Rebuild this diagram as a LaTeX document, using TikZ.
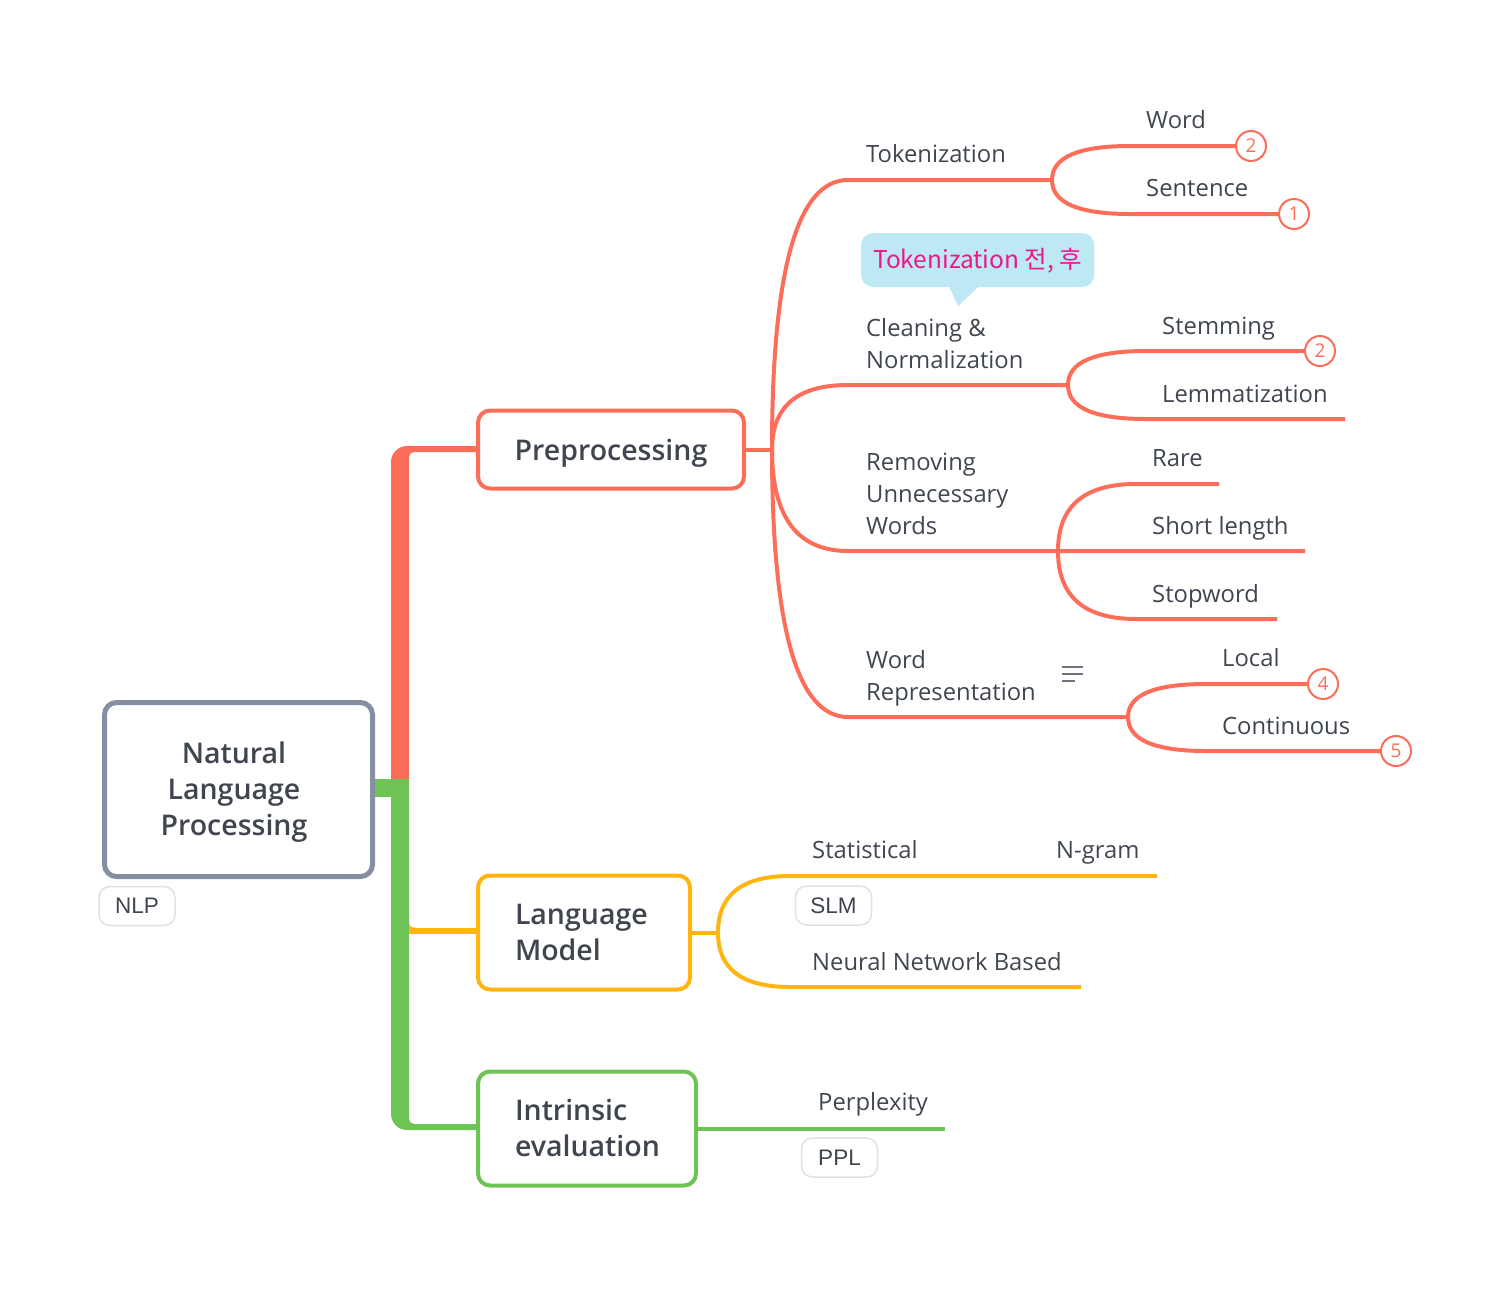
\documentclass[tikz,border=0pt]{standalone}
\usepackage{fontspec}
\setmainfont{Open Sans}
\newfontfamily\tagfont{Liberation Sans}
\newfontfamily\cjkfont{Noto Sans CJK KR}
\IfFontExistsTF{Open Sans SemiBold}{\newfontfamily\boxfont{Open Sans SemiBold}}{%
 \IfFontExistsTF{Open Sans Semibold}{\newfontfamily\boxfont{Open Sans Semibold}}{%
  \newfontfamily\boxfont[FakeBold=0.9]{Open Sans}}}
\definecolor{cred}{RGB}{252,110,90}
\definecolor{corange}{RGB}{255,180,15}
\definecolor{cgreen}{RGB}{110,195,85}
\definecolor{cgray}{RGB}{133,143,163}
\definecolor{ctext}{RGB}{64,70,80}
\definecolor{cbubble}{RGB}{190,232,243}
\definecolor{cpink}{RGB}{236,24,138}
\definecolor{ctag}{RGB}{225,225,225}
\definecolor{cicon}{RGB}{110,115,125}
\begin{document}
\begin{tikzpicture}[x=1pt,y=-1pt,
  lbl/.style={anchor=base west, inner sep=0pt, text=ctext, font=\fontsize{23.8}{32}\selectfont},
  topic/.style={draw, line width=4pt, rounded corners=12pt, fill=white, text=ctext, inner sep=0pt, font=\boxfont\fontsize{28.5}{36}\selectfont},
  tag/.style={draw=ctag, line width=1.5pt, fill=white, rounded corners=11pt, text=ctext, minimum width=76pt, minimum height=39pt, inner sep=0pt, font=\tagfont\fontsize{22.5}{26}\selectfont},
  num/.style={circle, draw=cred, line width=2pt, fill=white, minimum size=30pt, inner sep=0pt, text=cred, font=\fontsize{19}{19}\selectfont},
  rl/.style={draw=cred, line width=4pt, line join=round},
  ol/.style={draw=corange, line width=4pt, line join=round},
  gl/.style={draw=cgreen, line width=4pt, line join=round}]
\useasboundingbox (0,0) rectangle (1512,1288);

% ---- trunk ----
\fill[cred] (391,781) [rounded corners=16pt]-- (391,446) [sharp corners]-- (476,446) -- (476,452) [rounded corners=5pt]-- (409,452) [sharp corners]-- (409,781) -- cycle;
\fill[cgreen] (374,779) -- (409,779) -- (409,797) -- (374,797) -- cycle;
\fill[cgreen] (391,779) [rounded corners=16pt]-- (391,1130) [sharp corners]-- (476,1130) -- (476,1124) [rounded corners=5pt]-- (409,1124) [sharp corners]-- (409,779) -- cycle;
\fill[corange] (409,928) -- (476,928) -- (476,934) -- (409,934) -- cycle;
\fill[corange] (409,919) .. controls (409,927) .. (418,928) -- (409,928) -- cycle;

% ---- main boxes ----
\node[topic, draw=cgray, line width=5pt, minimum width=268pt, minimum height=174pt, text height=22pt, text depth=75pt, font=\boxfont\fontsize{28.5}{36}\selectfont] (root) at (238.5,789.5)
  {\hspace*{-9pt}\begin{tabular}[t]{@{}c@{}}Natural\\Language\\Processing\end{tabular}};
\node[tag] (nlp) at (137,906) {NLP};

\node[topic, draw=cred, minimum width=266pt, minimum height=78pt, text height=23pt, text depth=1pt] (pre) at (611,449.5) {Preprocessing};
\node[topic, draw=corange, minimum width=212pt, minimum height=114pt, text height=22pt, text depth=38pt, inner xsep=37pt] (lm) at (584,932.5)
  {\makebox[138pt][l]{\begin{tabular}[t]{@{}l@{}}Language\\Model\end{tabular}}};
\node[topic, draw=cgreen, minimum width=218pt, minimum height=114pt, text height=22pt, text depth=38pt, inner xsep=37pt] (ie) at (587,1128.5)
  {\makebox[144pt][l]{\begin{tabular}[t]{@{}l@{}}Intrinsic\\evaluation\end{tabular}}};

% ---- number markers ----
\node[num] (m1) at (1251,146) {2};
\node[num] (m2) at (1294,214) {1};
\node[num] (m3) at (1320,351) {2};
\node[num] (m4) at (1323,684) {4};
\node[num] (m5) at (1396,751) {5};

% ---- preprocessing connectors ----
\coordinate (pf) at (772,449.5);
\draw[rl] (pre.east) -- (pf);
\draw[rl] (pf) .. controls (772,270) and (797.3,180) .. (848,180) -- (1052,180) coordinate (tokf);
\draw[rl] (tokf) .. controls (1052,157.3) and (1078,146) .. (1130,146) -- (m1.west);
\draw[rl] (tokf) .. controls (1052,202.7) and (1078,214) .. (1130,214) -- (m2.west);

\draw[rl] (pf) .. controls (772,406.5) and (797.3,385) .. (848,385) -- (1068,385) coordinate (clf);
\draw[rl] (clf) .. controls (1068,362.3) and (1094,351) .. (1146,351) -- (m3.west);
\draw[rl] (clf) .. controls (1068,407.7) and (1094,419) .. (1146,419) -- (1345,419) coordinate (lemE);

\draw[rl] (pf) .. controls (772,517) and (797.3,551) .. (848,551) -- (1058,551) coordinate (ruf) -- (1305,551) coordinate (shortE);
\draw[rl] (ruf) .. controls (1058,506.3) and (1084,484) .. (1136,484) -- (1219,484) coordinate (rareE);
\draw[rl] (ruf) .. controls (1058,596.3) and (1084,619) .. (1136,619) -- (1277,619) coordinate (stopE);

\draw[rl] (pf) .. controls (772,628) and (797.3,717) .. (848,717) -- (1128,717) coordinate (wrf);
\draw[rl] (wrf) .. controls (1128,695) and (1154,684) .. (1206,684) -- (m4.west);
\draw[rl] (wrf) .. controls (1128,739.7) and (1154,751) .. (1206,751) -- (m5.west);

% ---- language model connectors ----
\coordinate (lf) at (718,932.5);
\draw[ol] (lm.east) -- (lf);
\draw[ol] (lf) .. controls (718,894.8) and (742,876) .. (790,876) -- (1157,876) coordinate (statE);
\draw[ol] (lf) .. controls (718,969) and (742,987) .. (790,987) -- (1081,987) coordinate (nnE);

% ---- intrinsic evaluation connector ----
\draw[gl] (ie.east) -- (945,1128.5) coordinate (ppxE);

% ---- labels ----
\node[lbl] (tok) at (866,162) {Tokenization};
\node[lbl] (word) at (1146,128) {Word};
\node[lbl] (sent) at (1146,196) {Sentence};
\node[lbl] (clean) at (866,336) {\begin{tabular}[t]{@{}l@{}}Cleaning \&\\Normalization\end{tabular}};
\node[lbl] (stem) at (1162,334) {Stemming};
\node[lbl] (lemma) at (1162,402) {Lemmatization};
\node[lbl] (remove) at (866,470) {\begin{tabular}[t]{@{}l@{}}Removing\\Unnecessary\\Words\end{tabular}};
\node[lbl] (rare) at (1152,466) {Rare};
\node[lbl] (short) at (1152,534) {Short length};
\node[lbl] (stop) at (1152,602) {Stopword};
\node[lbl] (wrep) at (866,668) {\begin{tabular}[t]{@{}l@{}}Word\\Representation\end{tabular}};
\node[lbl] (local) at (1222,666) {Local};
\node[lbl] (cont) at (1222,734) {Continuous};
\node[lbl] (stat) at (812,858) {Statistical};
\node[lbl] (ngram) at (1056,858) {N-gram};
\node[lbl] (nn) at (812,970) {Neural Network Based};
\node[lbl] (ppx) at (818,1110) {Perplexity};

\node[tag] (slm) at (833.5,905.5) {SLM};
\node[tag] (ppl) at (839.5,1157.5) {PPL};

% ---- note icon ----
\draw[cicon, line width=1.6pt] (1062,667) -- (1083,667) (1062,674) -- (1083,674) (1062,681) -- (1075,681);

% ---- callout ----
\node[anchor=base west, fill=cbubble, rounded corners=12pt, inner xsep=12pt, inner ysep=0pt, text height=20pt, text depth=4pt, minimum height=54pt, text=cpink, font=\cjkfont\fontsize{24.5}{28}\selectfont] (tip) at (861,268) {Tokenization 전, 후};
\fill[cbubble] ([xshift=88pt,yshift=1pt]tip.south west) -- ([xshift=97pt,yshift=-19pt]tip.south west) -- ([xshift=118pt,yshift=1pt]tip.south west) -- cycle;
\end{tikzpicture}
\end{document}
